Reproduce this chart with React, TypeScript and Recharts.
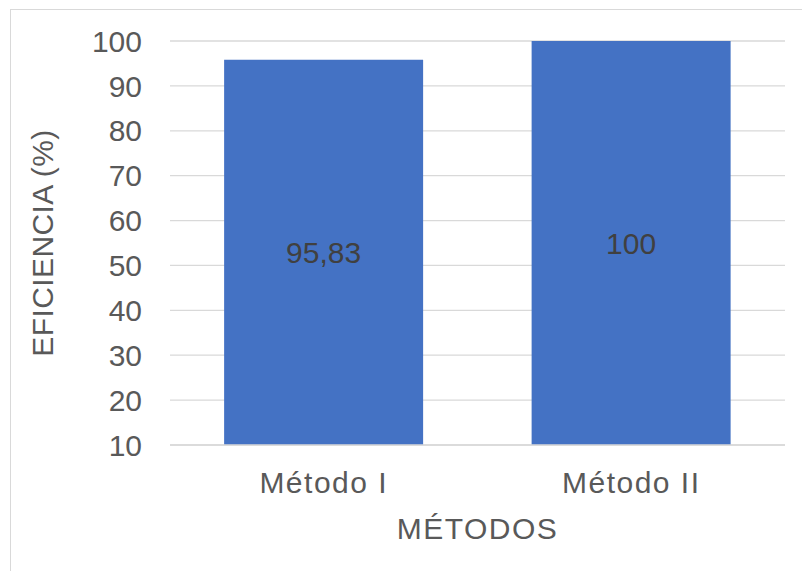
import React from 'react';
import { BarChart, Bar, XAxis, YAxis, CartesianGrid, LabelList } from 'recharts';

// Efficiency per method
const methods = ['Método I', 'Método II'];
const efficiency = [95.83, 100];
const yTicks = [10, 20, 30, 40, 50, 60, 70, 80, 90, 100];

const data = methods.map((name, i) => ({ name, value: efficiency[i] }));

const FONT = '"Liberation Sans", Arial, sans-serif';
const TEXT = '#595959';

const YTitle = ({ viewBox }: any) => {
    const cx = viewBox.x + 42;
    const cy = viewBox.y + viewBox.height / 2;
    return (
        <text
            x={cx}
            y={cy}
            transform={`rotate(-90, ${cx}, ${cy})`}
            textAnchor="middle"
            dominantBaseline="central"
            fill={TEXT}
            fontSize={30}
            fontFamily={FONT}
            letterSpacing={0.4}
        >
            EFICIENCIA (%)
        </text>
    );
};

export default function App() {
    return (
        <div style={{ position: 'absolute', left: 0, top: 0, width: 802, height: 571, background: '#fff', overflow: 'hidden' }}>
            <div style={{ position: 'absolute', left: 10, top: 9, width: 800, height: 570, border: '1px solid #d9d9d9' }} />
            <BarChart
                width={802}
                height={571}
                data={data}
                margin={{ top: 41, right: 17, bottom: 0, left: 0 }}
                barCategoryGap="17.6%"
                style={{ position: 'absolute', left: 0, top: 0 }}
            >
                <CartesianGrid vertical={false} stroke="#d9d9d9" strokeWidth={1.3} />
                <XAxis
                    dataKey="name"
                    height={126}
                    axisLine={{ stroke: '#d9d9d9', strokeWidth: 1.3 }}
                    tickLine={false}
                    tickSize={0}
                    tickMargin={27}
                    tick={{ fill: TEXT, fontSize: 30, fontFamily: FONT, letterSpacing: 1.5 }}
                    label={{ value: 'MÉTODOS', position: 'insideBottom', offset: 32, fill: TEXT, fontSize: 30, fontFamily: FONT, letterSpacing: 1.5 }}
                />
                <YAxis
                    width={170}
                    domain={[10, 100]}
                    ticks={yTicks}
                    axisLine={false}
                    tickLine={false}
                    tickSize={0}
                    tickMargin={28}
                    tick={{ fill: TEXT, fontSize: 30, fontFamily: FONT }}
                    label={<YTitle />}
                />
                <Bar dataKey="value" fill="#4472C4" isAnimationActive={false}>
                    <LabelList
                        dataKey="value"
                        position="center"
                        formatter={(v: any) => String(v).replace('.', ',')}
                        fill="#404040"
                        fontSize={30}
                        fontFamily={FONT}
                    />
                </Bar>
            </BarChart>
        </div>
    );
}
